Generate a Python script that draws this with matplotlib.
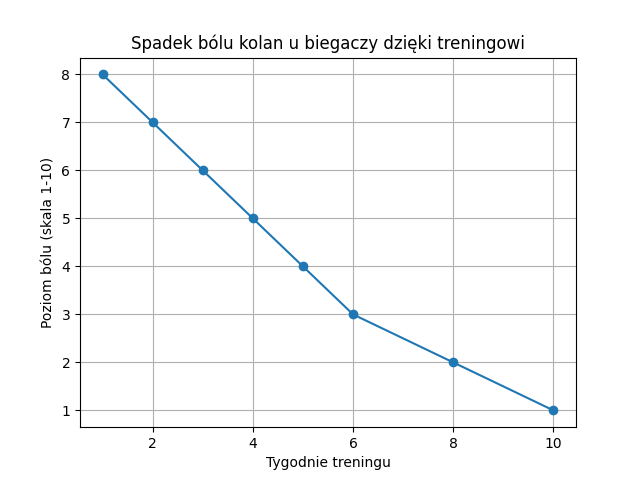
import matplotlib
matplotlib.use("Agg")
import matplotlib.pyplot as plt

weeks = [1, 2, 3, 4, 5, 6, 8, 10]
pain = [8, 7, 6, 5, 4, 3, 2, 1]

fig, ax = plt.subplots(figsize=(6.4, 4.8), dpi=100)
ax.plot(weeks, pain, marker='o')
ax.set_title('Spadek bólu kolan u biegaczy dzięki treningowi')
ax.set_xlabel('Tygodnie treningu')
ax.set_ylabel('Poziom bólu (skala 1-10)')
ax.grid(True)
fig.savefig('out.png')
